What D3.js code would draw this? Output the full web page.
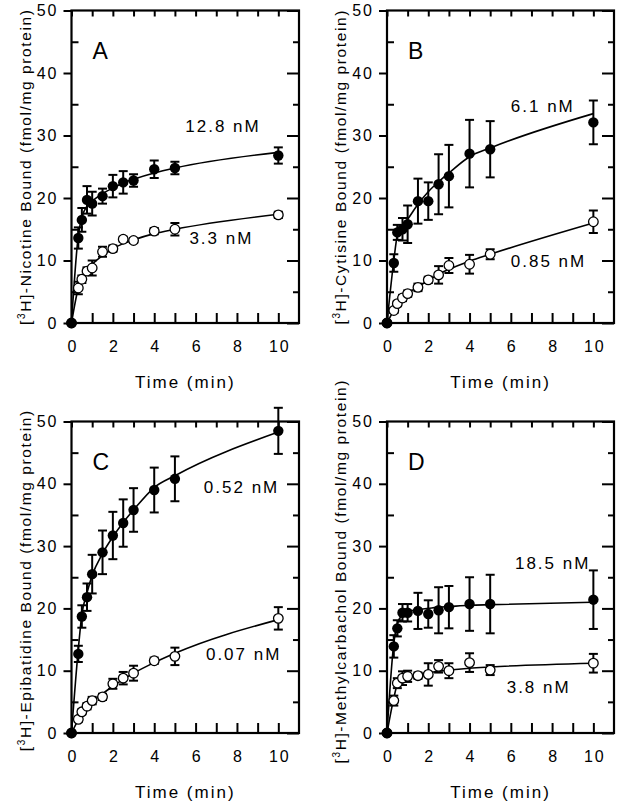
<!DOCTYPE html>
<html><head><meta charset="utf-8">
<script src="https://cdn.jsdelivr.net/npm/d3@7"></script>
<style>
html,body{margin:0;padding:0;background:#fff;}
svg text{font-family:"Liberation Sans",Arial,sans-serif;fill:#000;}
</style></head>
<body><svg id="c" width="622" height="807"></svg>
<script>
// ---- data ----
const times = [0, 0.33, 0.5, 0.75, 1, 1.5, 2, 2.5, 3, 4, 5, 10];
const panelLetters = ["A", "B", "C", "D"];
const ligands = ["Nicotine", "Cytisine", "Epibatidine", "Methylcarbachol"];
const highLabels = ["12.8 nM", "6.1 nM", "0.52 nM", "18.5 nM"];
const lowLabels = ["3.3 nM", "0.85 nM", "0.07 nM", "3.8 nM"];
const xTickValues = [0, 1, 2, 3, 4, 5, 6, 7, 8, 9, 10];
const xTickLabels = [0, 2, 4, 6, 8, 10];
const yMajorTicks = [0, 10, 20, 30, 40, 50];
const yMinorTicks = [5, 15, 25, 35, 45];

// Nicotine (A)
const nicHigh    = [0, 13.6, 16.5, 19.7, 19.1, 20.3, 21.9, 22.5, 22.8, 24.6, 24.8, 26.8];
const nicHighErr = [0, 1.7, 1.9, 2.2, 1.9, 1.2, 1.8, 1.8, 1.0, 1.4, 1.0, 1.3];
const nicHighFit = [0, 14.0, 16.9, 18.7, 19.5, 20.7, 21.6, 22.4, 23.0, 24.0, 24.8, 27.3];
const nicLow     = [0, 5.6, 7.0, 8.3, 8.8, 11.4, 11.9, 13.4, 13.2, 14.7, 15.0, 17.3];
const nicLowErr  = [0, 1.0, 0.6, 0.6, 1.2, 0.8, 0.5, 0.4, 0.4, 0.5, 1.0, 0.5];
const nicLowFit  = [0, 5.6, 7.2, 8.4, 9.4, 10.8, 11.9, 12.7, 13.3, 14.3, 15.0, 17.4];
// Cytisine (B)
const cytHigh    = [0, 9.6, 14.5, 15.0, 15.8, 19.5, 19.5, 22.2, 23.5, 27.1, 27.8, 32.1];
const cytHighErr = [0, 1.4, 1.2, 1.8, 3.0, 3.6, 3.0, 4.8, 5.0, 5.4, 4.5, 3.5];
const cytHighFit = [0, 10.0, 14.0, 15.5, 16.6, 19.0, 21.0, 22.6, 24.0, 26.6, 28.0, 33.5];
const cytLow     = [0, 2.0, 3.1, 4.0, 4.7, 5.7, 6.9, 7.7, 9.2, 9.4, 11.0, 16.2];
const cytLowErr  = [0, 0.4, 0.4, 0.5, 0.5, 0.6, 0.5, 1.4, 1.2, 1.5, 0.8, 1.8];
const cytLowFit  = [0, 2.1, 3.2, 4.0, 4.7, 5.8, 6.8, 7.8, 8.6, 9.9, 11.0, 16.0];
// Epibatidine (C)
const epiHigh    = [0, 12.7, 18.7, 21.8, 25.5, 29.0, 31.7, 33.7, 35.8, 39.0, 40.8, 48.5];
const epiHighErr = [0, 1.3, 1.8, 2.2, 3.1, 3.5, 3.8, 3.8, 3.5, 3.6, 3.6, 3.7];
const epiHighFit = [0, 13.5, 19.0, 22.5, 25.3, 28.8, 31.5, 33.8, 35.8, 39.4, 41.3, 48.3];
const epiLow     = [0, 2.2, 3.4, 4.3, 5.2, 5.8, 7.9, 8.8, 9.6, 11.6, 12.3, 18.4];
const epiLowErr  = [0, 0.4, 0.4, 0.5, 0.6, 0.5, 0.8, 1.0, 1.2, 0.5, 1.4, 1.8];
const epiLowFit  = [0, 2.2, 3.3, 4.2, 5.0, 6.3, 7.5, 8.6, 9.6, 11.3, 12.8, 18.2];
// Methylcarbachol (D)
const mcbHigh    = [0, 13.9, 16.8, 19.3, 19.3, 19.6, 19.1, 19.7, 20.2, 20.7, 20.7, 21.4];
const mcbHighErr = [0, 1.8, 1.3, 1.4, 1.4, 2.9, 2.2, 3.7, 3.4, 4.3, 4.7, 4.7];
const mcbHighFit = [0, 14.4, 17.5, 19.0, 19.5, 19.8, 20.0, 20.2, 20.3, 20.5, 20.6, 21.0];
const mcbLow     = [0, 5.2, 8.0, 8.8, 9.1, 9.2, 9.4, 10.7, 10.0, 11.3, 10.1, 11.2];
const mcbLowErr  = [0, 0.8, 0.8, 1.1, 0.9, 0.5, 1.8, 1.0, 1.2, 1.5, 0.8, 1.5];
const mcbLowFit  = [0, 5.6, 7.8, 8.6, 9.0, 9.4, 9.7, 9.9, 10.1, 10.4, 10.6, 11.2];

// ---- layout ----
const boxes = [
  {left: 71.5, right: 299, top: 10.5, bottom: 323, titleShift: 0},
  {left: 387, right: 614, top: 10.5, bottom: 323, titleShift: 0},
  {left: 71.5, right: 299, top: 421.5, bottom: 733, titleShift: 3},
  {left: 387, right: 614, top: 421.5, bottom: 733, titleShift: -6}
];
const highSeries = [[nicHigh, nicHighErr, nicHighFit], [cytHigh, cytHighErr, cytHighFit], [epiHigh, epiHighErr, epiHighFit], [mcbHigh, mcbHighErr, mcbHighFit]];
const lowSeries = [[nicLow, nicLowErr, nicLowFit], [cytLow, cytLowErr, cytLowFit], [epiLow, epiLowErr, epiLowFit], [mcbLow, mcbLowErr, mcbLowFit]];
// annotation anchor positions (data coords)
const highPos = [[5.5, 30.5], [6.0, 33.7], [6.4, 38.5], [6.2, 26.3]];
const lowPos  = [[5.7, 12.6], [6.0, 9.0], [6.5, 11.7], [5.8, 6.5]];

const svg = d3.select("#c");

boxes.forEach((b, i) => {
  const x = d3.scaleLinear().domain([0, 11]).range([b.left, b.right]);
  const y = d3.scaleLinear().domain([0, 50]).range([b.bottom, b.top]);
  const g = svg.append("g");

  const styleAxis = sel => {
    sel.select(".domain").remove();
    sel.selectAll(".tick line").attr("stroke", "#000").attr("stroke-width", 2);
    sel.selectAll("text").attr("font-size", 16).attr("letter-spacing", 2).attr("fill", "#000")
      .attr("font-family", "Liberation Sans, Arial, sans-serif");
  };

  g.append("g").attr("transform", `translate(0,${b.bottom})`)
    .call(d3.axisBottom(x).tickValues(xTickValues).tickSizeInner(-10).tickSizeOuter(0).tickPadding(18)
      .tickFormat(d => xTickLabels.includes(d) ? d : ""))
    .call(styleAxis)
    .selectAll("text").attr("dx", 1);
  g.append("g").attr("transform", `translate(0,${b.top})`)
    .call(d3.axisTop(x).tickValues(xTickValues).tickSizeInner(-6).tickSizeOuter(0).tickFormat(""))
    .call(styleAxis);
  g.append("g").attr("transform", `translate(${b.left},0)`)
    .call(d3.axisLeft(y).tickValues(yMajorTicks).tickSizeInner(8).tickSizeOuter(0).tickPadding(5))
    .call(styleAxis);
  g.append("g").attr("transform", `translate(${b.left},0)`)
    .call(d3.axisLeft(y).tickValues(yMinorTicks).tickSizeInner(-7).tickSizeOuter(0).tickFormat(""))
    .call(styleAxis);
  g.append("g").attr("transform", `translate(${b.right},0)`)
    .call(d3.axisRight(y).tickValues(yMajorTicks).tickSizeInner(-12).tickSizeOuter(0).tickFormat(""))
    .call(styleAxis);
  g.append("g").attr("transform", `translate(${b.right},0)`)
    .call(d3.axisRight(y).tickValues(yMinorTicks).tickSizeInner(-6).tickSizeOuter(0).tickFormat(""))
    .call(styleAxis);

  g.append("rect").attr("x", b.left).attr("y", b.top)
    .attr("width", b.right - b.left).attr("height", b.bottom - b.top)
    .attr("fill", "none").attr("stroke", "#000").attr("stroke-width", 2.2);

  g.append("text").attr("x", (b.left + b.right) / 2).attr("y", b.bottom + 65)
    .attr("text-anchor", "middle").attr("font-size", 17).attr("letter-spacing", 2).attr("fill", "#111")
    .text("Time (min)");
  const yt = g.append("text")
    .attr("transform", `translate(${b.left - 41},${(b.top + b.bottom) / 2 + b.titleShift}) rotate(-90)`)
    .attr("text-anchor", "middle").attr("font-size", 15.5).attr("letter-spacing", 1.6).attr("fill", "#111");
  yt.append("tspan").text("[");
  yt.append("tspan").attr("font-size", 10).attr("dy", -6).text("3");
  yt.append("tspan").attr("dy", 6).text(`H]-${ligands[i]} Bound (fmol/mg protein)`);

  g.append("text").attr("x", b.left + 21).attr("y", b.top + 48)
    .attr("font-size", 23).text(panelLetters[i]);

  g.append("text").attr("x", x(highPos[i][0])).attr("y", y(highPos[i][1]))
    .attr("font-size", 17).attr("letter-spacing", 2).text(highLabels[i]);
  g.append("text").attr("x", x(lowPos[i][0])).attr("y", y(lowPos[i][1]))
    .attr("font-size", 17).attr("letter-spacing", 2).text(lowLabels[i]);

  const line = d3.line().x((d, k) => x(times[k])).y(d => y(d)).curve(d3.curveMonotoneX);

  const drawSeries = (vals, errs, fit) => {
    const s = g.append("g");
    s.append("path").datum(fit).attr("d", line).attr("fill", "none")
      .attr("stroke", "#000").attr("stroke-width", 1.6);
    const pts = vals.map((v, k) => ({t: times[k], v, e: errs[k]})).filter(d => d.e > 0);
    const eb = s.selectAll(".eb").data(pts).enter().append("g");
    eb.append("line").attr("x1", d => x(d.t)).attr("x2", d => x(d.t))
      .attr("y1", d => y(d.v - d.e)).attr("y2", d => y(d.v + d.e))
      .attr("stroke", "#000").attr("stroke-width", 2);
    [1, -1].forEach(sg => {
      eb.append("line").attr("x1", d => x(d.t) - 4.5).attr("x2", d => x(d.t) + 4.5)
        .attr("y1", d => y(d.v + sg * d.e)).attr("y2", d => y(d.v + sg * d.e))
        .attr("stroke", "#000").attr("stroke-width", 2);
    });
    return vals.map((v, k) => ({t: times[k], v}));
  };
  const hp = drawSeries(...highSeries[i]);
  const lp = drawSeries(...lowSeries[i]);

  g.selectAll(".lo").data(lp).enter().append("circle")
    .attr("cx", d => x(d.t)).attr("cy", d => y(d.v)).attr("r", 4.8)
    .attr("fill", "#fff").attr("stroke", "#000").attr("stroke-width", 1.3);
  g.selectAll(".hi").data(hp).enter().append("circle")
    .attr("cx", d => x(d.t)).attr("cy", d => y(d.v)).attr("r", 5.2)
    .attr("fill", "#000");
});
</script></body></html>
